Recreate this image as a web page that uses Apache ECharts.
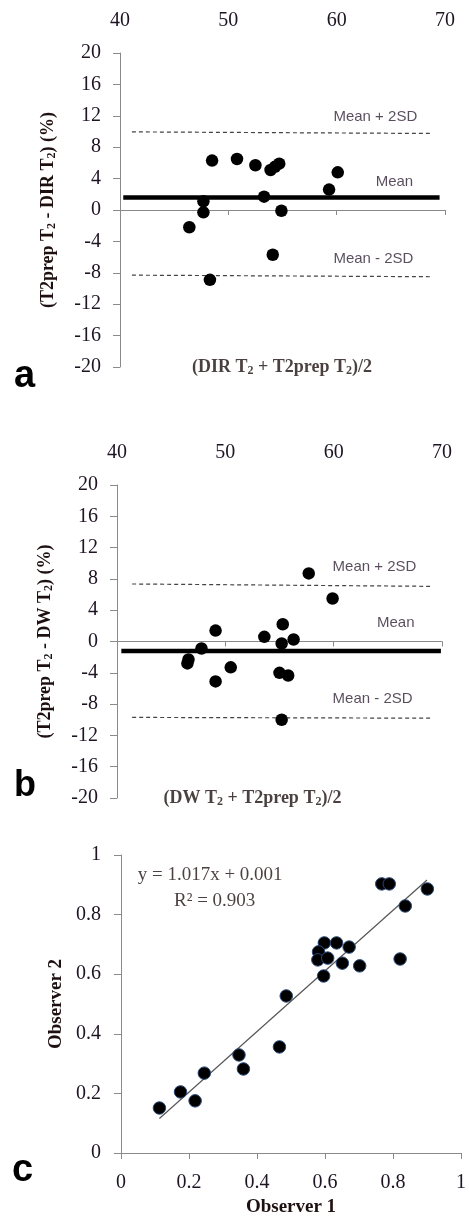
<!DOCTYPE html>
<html><head><meta charset="utf-8">
<script src="https://cdn.jsdelivr.net/npm/echarts@6/dist/echarts.min.js"></script>
<style>html,body{margin:0;padding:0;background:#fff}#c{width:469px;height:1218px}</style>
</head><body><div id="c"></div>
<script>
// ---- Data ----
const blandAltmanXTicks = [40, 50, 60, 70];
const blandAltmanYRange = [-20, 20];
// Panel a: (DIR T2 + T2prep T2)/2 vs (T2prep T2 - DIR T2) (%)
const pointsA = [
  [48.5, 6.3], [50.8, 6.5], [52.5, 5.7], [53.9, 5.1], [54.3, 5.5], [54.7, 5.9],
  [60.1, 4.8], [59.3, 2.6], [53.3, 1.7], [47.7, 1.1], [47.7, -0.3], [54.9, -0.1],
  [46.4, -2.2], [54.1, -5.7], [48.3, -8.9]
];
const meanA = 1.6;
const upperA = [9.95, 9.75];
const lowerA = [-8.3, -8.5];
const meanSpanA = [40.3, 69.5];
const limitSpanA = [41.1, 68.6];

// Panel b: (DW T2 + T2prep T2)/2 vs (T2prep T2 - DW T2) (%)
const pointsB = [
  [57.7, 8.7], [59.9, 5.5], [55.3, 2.2], [53.6, 0.6], [56.3, 0.25], [55.2, -0.25],
  [49.1, 1.4], [47.8, -0.9], [46.6, -2.3], [46.5, -2.8], [50.5, -3.3], [49.1, -5.1],
  [55.0, -4.0], [55.8, -4.35], [55.2, -10.0]
];
const meanB = -1.2;
const upperB = [7.35, 7.05];
const lowerB = [-9.7, -9.8];
const meanSpanB = [40.4, 69.9];
const limitSpanB = [41.4, 68.9];

// Panel c: Observer 1 vs Observer 2
const pointsC = [
  [0.767, 0.903], [0.789, 0.903], [0.901, 0.886], [0.836, 0.829], [0.821, 0.651],
  [0.598, 0.705], [0.634, 0.705], [0.671, 0.691], [0.581, 0.675], [0.579, 0.648],
  [0.608, 0.654], [0.651, 0.637], [0.702, 0.628], [0.596, 0.594], [0.486, 0.527],
  [0.466, 0.356], [0.347, 0.329], [0.360, 0.282], [0.245, 0.268], [0.175, 0.205],
  [0.218, 0.175], [0.113, 0.151]
];
const fitSlope = 1.017, fitIntercept = 0.001, fitR2 = 0.903;
const fitSpan = [0.113, 0.9];

// ---- Styles ----
const serif = '"Liberation Serif", "Times New Roman", serif';
const sans = '"Liberation Sans", Arial, sans-serif';
const tickColor = '#1e1424';
const axisGray = '#8a8a8a';
const annColor = '#2e1f35';
const nameColor = '#1e1010';

const richT = {
  t: {fontFamily: serif, fontWeight: 'bold', fontSize: 18, color: nameColor},
  s: {fontFamily: serif, fontWeight: 'bold', fontSize: 12, color: nameColor, verticalAlign: 'bottom', padding: [8, 0, 0, 0]}
};

function lineSeg(span, vals) {
  return [[span[0], vals[0]], [span[1], vals[1]]];
}

function baAxes(gridIndex) {
  return [
    { // zero-crossing axis line with ticks
      type: 'value', gridIndex, min: 40, max: 70, interval: 10,
      axisLine: {onZero: true, lineStyle: {color: axisGray, width: 1}},
      axisTick: {show: true, length: 5, lineStyle: {color: axisGray}},
      axisLabel: {show: false}, splitLine: {show: false}
    },
    { // top labels
      type: 'value', gridIndex, position: 'top', min: 40, max: 70, interval: 10,
      axisLine: {show: false}, axisTick: {show: false}, splitLine: {show: false},
      axisLabel: {show: true, margin: 22, fontFamily: serif, fontSize: 20, color: tickColor,
        formatter: v => blandAltmanXTicks.includes(v) ? String(v) : ''}
    }
  ];
}

function baYAxis(gridIndex, nameRich) {
  return {
    type: 'value', gridIndex, min: blandAltmanYRange[0], max: blandAltmanYRange[1], interval: 4,
    axisLine: {show: true, onZero: false, lineStyle: {color: axisGray}},
    axisTick: {show: true, length: 7, lineStyle: {color: axisGray}},
    splitLine: {show: false},
    axisLabel: {margin: 19, fontFamily: serif, fontSize: 20, color: tickColor},
    name: nameRich, nameLocation: 'middle', nameRotate: 90, nameGap: 62,
    nameTextStyle: {rich: richT}
  };
}

function annSeries(xi, yi, items) {
  return {
    type: 'scatter', xAxisIndex: xi, yAxisIndex: yi, symbolSize: 0, silent: true,
    data: items.map(it => ({value: it.value, name: it.name})),
    label: {show: true, position: 'right', distance: 0, formatter: p => p.name,
      fontFamily: sans, fontSize: 15, color: annColor}
  };
}

function titleSeries(xi, yi, pos, rich) {
  return {
    type: 'scatter', xAxisIndex: xi, yAxisIndex: yi, symbolSize: 0, silent: true,
    data: [{value: pos, name: 't'}],
    label: {show: true, position: 'inside', formatter: rich, rich: richT}
  };
}

const chart = echarts.init(document.getElementById('c'), null, {renderer: 'canvas'});

const option = {
  animation: false,
  backgroundColor: '#fff',
  grid: [
    {left: 120, top: 53, width: 325, height: 314},
    {left: 117, top: 485, width: 325, height: 313},
    {left: 121, top: 855, width: 346, height: 298}
  ],
  xAxis: [
    ...baAxes(0),
    ...baAxes(1),
    {
      type: 'value', gridIndex: 2, min: 0, max: 1, interval: 0.2,
      axisLine: {onZero: false, lineStyle: {color: axisGray}},
      axisTick: {show: true, length: 6, lineStyle: {color: axisGray}},
      splitLine: {show: false},
      axisLabel: {margin: 20, fontFamily: serif, fontSize: 20, color: tickColor,
        formatter: v => String(Math.round(v * 10) / 10)},
      name: 'Observer 1', nameLocation: 'middle', nameGap: 45,
      nameTextStyle: {fontFamily: serif, fontWeight: 'bold', fontSize: 19, color: nameColor}
    }
  ],
  yAxis: [
    baYAxis(0, '{t|(T2prep T}{s|2}{t| - DIR T}{s|2}{t|) (%)}'),
    baYAxis(1, '{t|(T2prep T}{s|2}{t| - DW T}{s|2}{t|) (%)}'),
    {
      type: 'value', gridIndex: 2, min: 0, max: 1, interval: 0.2,
      axisLine: {show: true, onZero: false, lineStyle: {color: axisGray}},
      axisTick: {show: true, length: 7, lineStyle: {color: axisGray}},
      splitLine: {show: false},
      axisLabel: {margin: 20, fontFamily: serif, fontSize: 20, color: tickColor,
        formatter: v => String(Math.round(v * 10) / 10)},
      name: 'Observer 2', nameLocation: 'middle', nameRotate: 90, nameGap: 52,
      nameTextStyle: {fontFamily: serif, fontWeight: 'bold', fontSize: 19, color: nameColor}
    }
  ],
  series: [
    // Panel a
    {type: 'line', xAxisIndex: 0, yAxisIndex: 0, data: lineSeg(limitSpanA, upperA), symbol: 'none',
      lineStyle: {color: '#444', width: 1.2, type: [4, 3]}, z: 2},
    {type: 'line', xAxisIndex: 0, yAxisIndex: 0, data: lineSeg(limitSpanA, lowerA), symbol: 'none',
      lineStyle: {color: '#444', width: 1.2, type: [4, 3]}, z: 2},
    {type: 'line', xAxisIndex: 0, yAxisIndex: 0, data: lineSeg(meanSpanA, [meanA, meanA]), symbol: 'none',
      lineStyle: {color: '#000', width: 4.5}, z: 2},
    {type: 'scatter', xAxisIndex: 0, yAxisIndex: 0, data: pointsA, symbolSize: 12.5,
      itemStyle: {color: '#000', opacity: 1}, z: 3},
    annSeries(0, 0, [
      {name: 'Mean + 2SD', value: [59.7, 11.85]},
      {name: 'Mean', value: [63.6, 3.6]},
      {name: 'Mean - 2SD', value: [59.7, -6.25]}
    ]),
    titleSeries(0, 0, [54.96, -20], '{t|(DIR T}{s|2}{t| + T2prep T}{s|2}{t|)/2}'),
    // Panel b
    {type: 'line', xAxisIndex: 2, yAxisIndex: 1, data: lineSeg(limitSpanB, upperB), symbol: 'none',
      lineStyle: {color: '#444', width: 1.2, type: [4, 3]}, z: 2},
    {type: 'line', xAxisIndex: 2, yAxisIndex: 1, data: lineSeg(limitSpanB, lowerB), symbol: 'none',
      lineStyle: {color: '#444', width: 1.2, type: [4, 3]}, z: 2},
    {type: 'line', xAxisIndex: 2, yAxisIndex: 1, data: lineSeg(meanSpanB, [meanB, meanB]), symbol: 'none',
      lineStyle: {color: '#000', width: 4.5}, z: 2},
    {type: 'scatter', xAxisIndex: 2, yAxisIndex: 1, data: pointsB, symbolSize: 12.5,
      itemStyle: {color: '#000', opacity: 1}, z: 3},
    annSeries(2, 1, [
      {name: 'Mean + 2SD', value: [59.9, 9.5]},
      {name: 'Mean', value: [64.0, 2.4]},
      {name: 'Mean - 2SD', value: [59.9, -7.3]}
    ]),
    titleSeries(2, 1, [52.5, -20], '{t|(DW T}{s|2}{t| + T2prep T}{s|2}{t|)/2}'),
    // Panel c
    {type: 'line', xAxisIndex: 4, yAxisIndex: 2, symbol: 'none',
      data: fitSpan.map(x => [x, fitSlope * x + fitIntercept]),
      lineStyle: {color: '#555', width: 1.2}, z: 2},
    {type: 'scatter', xAxisIndex: 4, yAxisIndex: 2, data: pointsC, symbolSize: 12.5,
      itemStyle: {color: '#000', borderColor: '#2a4a78', borderWidth: 1, opacity: 1}, z: 3},
    {
      type: 'scatter', xAxisIndex: 4, yAxisIndex: 2, symbolSize: 0, silent: true,
      data: [
        {value: [0.049, 0.933], name: 'y = ' + fitSlope.toFixed(3) + 'x + ' + fitIntercept.toFixed(3)},
        {value: [0.156, 0.846], name: 'R² = ' + fitR2.toFixed(3)}
      ],
      label: {show: true, position: 'right', distance: 0, formatter: p => p.name,
        fontFamily: serif, fontSize: 19, color: nameColor}
    }
  ],
  graphic: [
    {type: 'text', left: 14, top: 358, style: {text: 'a', font: 'bold 38px "Liberation Sans", Arial, sans-serif', fill: '#000'}},
    {type: 'text', left: 14, top: 768, style: {text: 'b', font: 'bold 36px "Liberation Sans", Arial, sans-serif', fill: '#000'}},
    {type: 'text', left: 12, top: 1152, style: {text: 'c', font: 'bold 38px "Liberation Sans", Arial, sans-serif', fill: '#000'}}
  ]
};
chart.setOption(option);
</script>
</body></html>
